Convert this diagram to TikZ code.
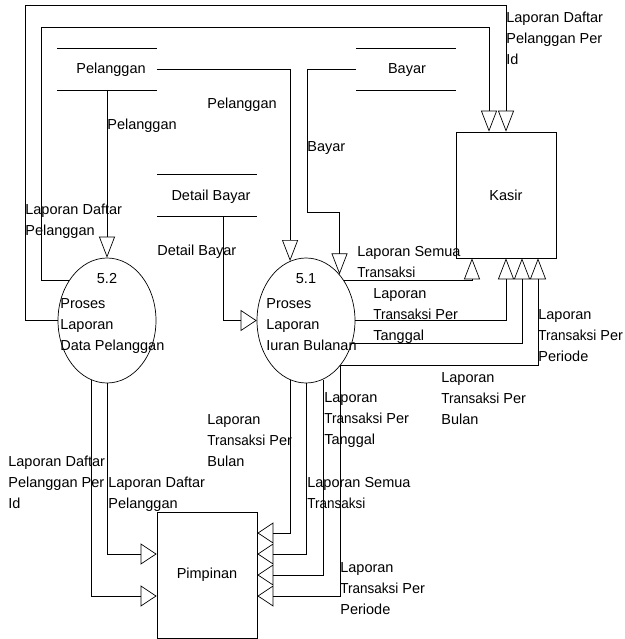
\documentclass[tikz,border=0pt]{standalone}
\usepackage{fontspec}
\setmainfont{Liberation Sans}
\newfontfamily\narrowf[FakeStretch=0.93]{Liberation Sans}
\newcommand{\Trs}{{\narrowf Transaksi}}
\usetikzlibrary{arrows.meta,shapes.geometric,calc}
\begin{document}
\begin{tikzpicture}[x=1pt,y=-1pt,line width=0.7pt,
  txt/.style={inner sep=0pt,font=\fontsize{14.5}{21}\selectfont},
  lbl/.style={txt,anchor=north west,align=left},
  varr/.style={-{Triangle[open,length=21pt,width=16pt]}},
  harr/.style={-{Triangle[open,length=16pt,width=21pt]}},
  proc/.style={draw,ellipse,minimum width=98pt,minimum height=125pt,inner sep=0pt},
  ent/.style={draw,rectangle,minimum width=100pt,minimum height=126pt,inner sep=0pt,font=\fontsize{14.5}{21}\selectfont}]
\useasboundingbox (0,0) rectangle (624,639);

% entities
\node[ent] (kasir) at (506,195) {Kasir};
\node[ent] (pim) at (207,575) {Pimpinan};

% processes
\node[proc] (p52) at (107,320.5) {};
\node[proc] (p51) at (306,320.5) {};
\node[txt] (n52) at (107,279) {5.2};
\node[txt] (n51) at (306,279) {5.1};
\node[lbl] (t52) at (60,298) {Proses\\Laporan\\Data Pelanggan};
\node[lbl] (t51) at (266,298) {Proses\\Laporan\\Iuran Bulanan};

% data stores
\draw (57,48) -- (157,48) (57,90) -- (157,90);
\node[txt] (pel) at (111,70) {Pelanggan};
\coordinate (pelR) at (157,69);
\coordinate (pelB) at (107,90);
\draw (356,48) -- (456,48) (356,90) -- (456,90);
\node[txt] (bay) at (407,70) {Bayar};
\coordinate (bayL) at (356,69);
\draw (157,174) -- (257,174) (157,216) -- (257,216);
\node[txt] (db) at (211,197) {Detail Bayar};
\coordinate (dbB) at (223,216);

% store flows
\draw[varr] (pelR) -| (p51.105);
\node[lbl] (lpel1) at (207,98) {Pelanggan};
\draw[varr] (pelB) -- (p52.north);
\node[lbl] (lpel2) at (107,119) {Pelanggan};
\draw[varr] (bayL) -| (307,212) -| (p51.54);
\node[lbl] (lbay) at (307,141) {Bayar};
\draw[harr] (dbB) |- (p51.west);
\node[lbl] (ldb) at (157,245) {Detail Bayar};

% 5.2 -> Kasir
\draw[varr] (p52.west) -| (25,5) -| (kasir.north);
\draw[varr] (p52.133) -| (41,27) -| ($(kasir.north)+(-17,0)$);
\node[lbl] (lk1) at (506,12) {Laporan Daftar\\Pelanggan Per\\Id};
\node[lbl] (lk2) at (25,204) {Laporan Daftar\\Pelanggan};

% 5.1 -> Kasir
\draw[varr] (p51.47) -| ($(kasir.south)+(-34,0)$);
\draw[varr] (p51.east) -| (kasir.south);
\draw[varr] (p51.-27) -| ($(kasir.south)+(16,0)$);
\draw[varr] (p51.-53) -| ($(kasir.south)+(32,0)$);
\node[lbl] (lk3) at (357,246) {Laporan Semua\\\Trs};
\node[lbl] (lk4) at (373,288) {Laporan\\\Trs{} Per\\Tanggal};
\node[lbl] (lk5) at (538,309) {Laporan\\\Trs{} Per\\Periode};
\node[lbl] (lk6) at (441,372) {Laporan\\\Trs{} Per\\Bulan};

% 5.1 -> Pimpinan
\draw[harr] (p51.-105) |- ($(pim.east)+(0,-42)$);
\draw[harr] (p51.south) |- ($(pim.east)+(0,-21)$);
\draw[harr] (p51.-74) |- (pim.east);
\draw[harr] (p51.-53) |- ($(pim.east)+(0,21)$);
\node[lbl] (lp1) at (207,414) {Laporan\\\Trs{} Per\\Bulan};
\node[lbl] (lp2) at (324,392) {Laporan\\\Trs{} Per\\Tanggal};
\node[lbl] (lp3) at (307,477) {Laporan Semua\\\Trs};
\node[lbl] (lp4) at (340,562) {Laporan\\\Trs{} Per\\Periode};

% 5.2 -> Pimpinan
\draw[harr] (p52.south) |- ($(pim.west)+(0,-21)$);
\draw[harr] (p52.-105) |- ($(pim.west)+(0,21)$);
\node[lbl] (lp5) at (8,456) {Laporan Daftar\\Pelanggan Per\\Id};
\node[lbl] (lp6) at (108,477) {Laporan Daftar\\Pelanggan};
\end{tikzpicture}
\end{document}
